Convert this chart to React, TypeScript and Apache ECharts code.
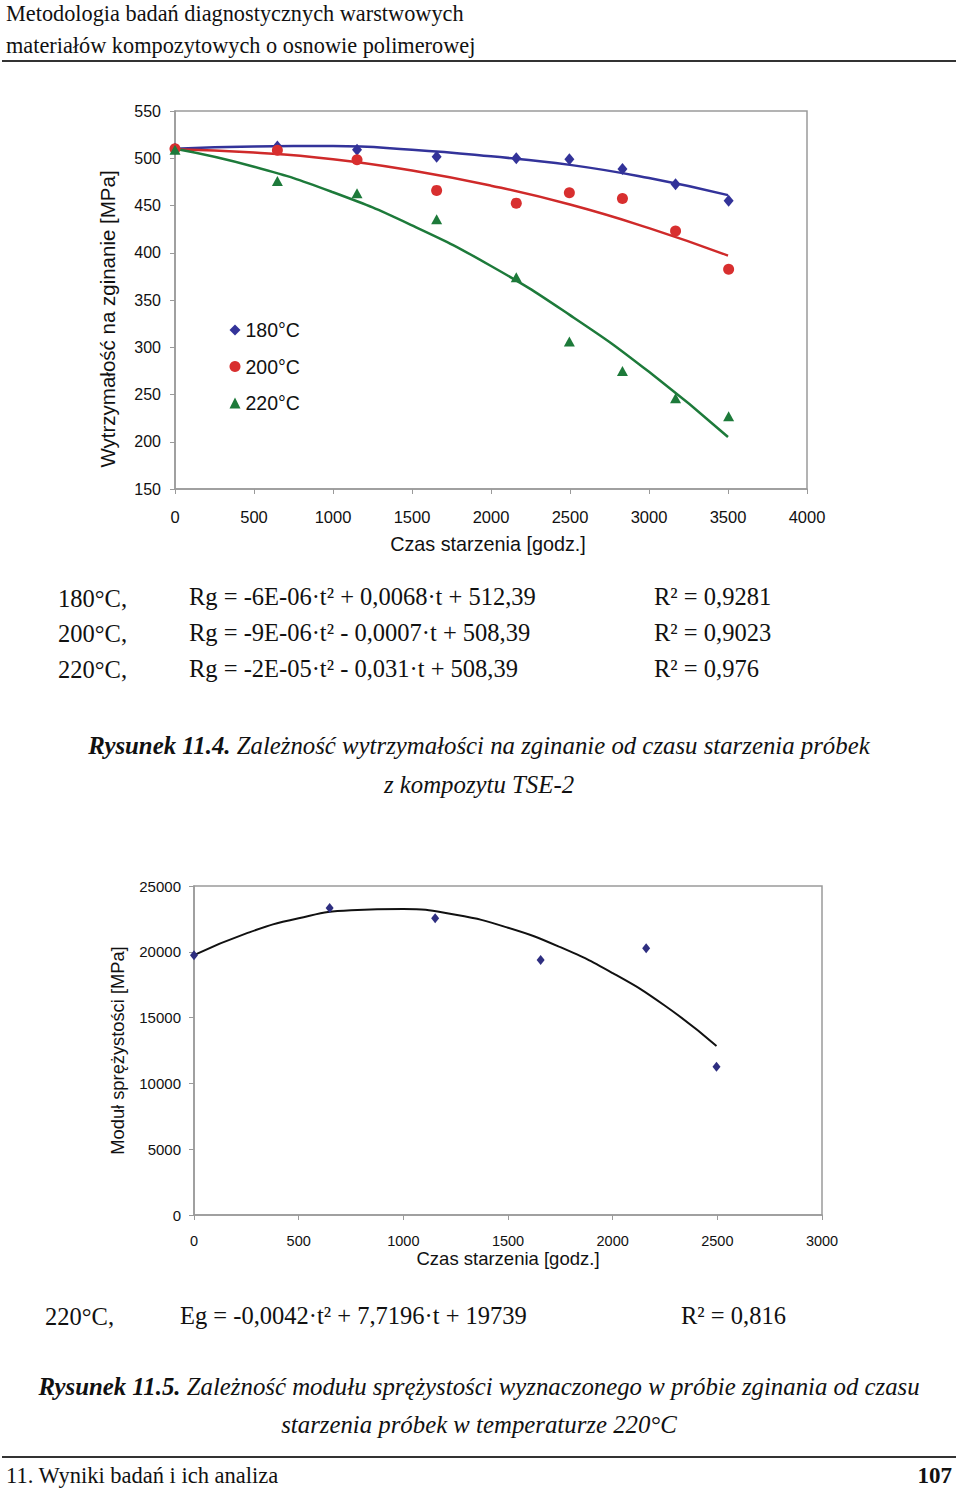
import React, { useEffect, useRef } from "react";
import * as echarts from "echarts";

// ---- Figure 11.4 data (bending strength vs ageing time) ----
const timeTop = [0, 648, 1152, 1656, 2160, 2496, 2832, 3168, 3504];
const rg180 = [510, 512.5, 509, 501.5, 500, 499, 488.5, 472.5, 455];
const rg200 = [510, 508.5, 498.5, 466, 452.5, 463.5, 457.5, 423, 382.5];
const rg220 = [509, 476, 463, 435.5, 374, 306, 275, 246, 227];
const trendTopT = [0, 500, 1000, 1500, 2000, 2500, 3000, 3500];
const trend180 = [510, 512.5, 513, 509, 502, 493, 479, 461];
const trend200 = [509.5, 506, 499, 487, 471, 451, 426, 397];
const trend220 = [510, 491, 464, 429, 386, 334, 274, 205];
const legendNames = ["180°C", "200°C", "220°C"];

// ---- Figure 11.5 data (elastic modulus vs ageing time) ----
const timeBot = [0, 648, 1152, 1656, 2160, 2496];
const eg220 = [19740, 23330, 22550, 19380, 20270, 11260];
const trendBotT = [0, 250, 500, 750, 1000, 1250, 1500, 1750, 2000, 2250, 2496];
const trendBot = [19740, 21400, 22550, 23160, 23260, 22810, 21830, 20350, 18380, 15900, 12850];

const pairs = (xs: number[], ys: number[]) => xs.map((x, i) => [x, ys[i]]);

const SERIF = "'Liberation Serif', 'Times New Roman', serif";
const SANS = "'Liberation Sans', Arial, sans-serif";
const AXIS_GRAY = "#9a9a9a";
const plain = (v: number) => String(v);

function txt(x: number, y: number, text: string, size: number, opts: any = {}) {
  return {
    type: "text",
    x,
    y,
    rotation: opts.rotation || 0,
    style: {
      text,
      font: `${opts.style || ""} ${size}px ${opts.family || SERIF}`,
      fill: "#111",
      textAlign: opts.align || "left",
      textVerticalAlign: "middle",
      rich: opts.rich,
    },
  };
}

export default function App() {
  const ref = useRef<HTMLDivElement>(null);
  useEffect(() => {
    if (!ref.current) return;
    const chart = echarts.init(ref.current, null, { renderer: "svg" });
    const axisCommon = {
      axisLine: { show: true, lineStyle: { color: AXIS_GRAY, width: 1.5 } },
      axisTick: { show: true, length: 5, lineStyle: { color: AXIS_GRAY } },
      splitLine: { show: false },
    };
    const capRich = (size: number) => ({
      b: { font: `italic bold ${size}px ${SERIF}`, fill: "#111" },
      i: { font: `italic ${size}px ${SERIF}`, fill: "#111" },
    });
    const EQ = 24.5;
    const CAP = 24.8;
    chart.setOption({
      animation: false,
      grid: [
        { left: 175, right: 153, top: 111, height: 378, show: true, borderColor: AXIS_GRAY, borderWidth: 1.5 },
        { left: 194, right: 138, top: 886, height: 329, show: true, borderColor: AXIS_GRAY, borderWidth: 1.5 },
      ],
      xAxis: [
        {
          ...axisCommon,
          gridIndex: 0,
          type: "value",
          min: 0,
          max: 4000,
          interval: 500,
          name: "Czas starzenia [godz.]",
          nameLocation: "middle",
          nameGap: 45,
          nameTextStyle: { color: "#111", fontFamily: SANS, fontSize: 19.8, padding: [0, 6, 0, 0] },
          axisLabel: { color: "#111", fontFamily: SANS, fontSize: 16.5, margin: 19, formatter: plain },
        },
        {
          ...axisCommon,
          gridIndex: 1,
          type: "value",
          min: 0,
          max: 3000,
          interval: 500,
          name: "Czas starzenia [godz.]",
          nameLocation: "middle",
          nameGap: 34,
          nameTextStyle: { color: "#111", fontFamily: SANS, fontSize: 18.5 },
          axisLabel: { color: "#111", fontFamily: SANS, fontSize: 14.5, margin: 18, formatter: plain },
        },
      ],
      yAxis: [
        {
          ...axisCommon,
          gridIndex: 0,
          type: "value",
          min: 150,
          max: 550,
          interval: 50,
          axisLabel: { color: "#111", fontFamily: SANS, fontSize: 16, margin: 14, formatter: plain },
        },
        {
          ...axisCommon,
          gridIndex: 1,
          type: "value",
          min: 0,
          max: 25000,
          interval: 5000,
          name: "Moduł sprężystości [MPa]",
          nameLocation: "middle",
          nameRotate: 90,
          nameGap: 68,
          nameTextStyle: { color: "#111", fontFamily: SANS, fontSize: 18.3 },
          axisLabel: { color: "#111", fontFamily: SANS, fontSize: 15, margin: 13, formatter: plain },
        },
      ],
      legend: {
        data: legendNames,
        orient: "vertical",
        left: 229.5,
        top: 320,
        padding: 0,
        itemWidth: 11,
        itemHeight: 11,
        itemGap: 16.5,
        textStyle: { color: "#111", fontFamily: SANS, fontSize: 19.5 },
      },
      series: [
        {
          type: "line", name: "trend180", xAxisIndex: 0, yAxisIndex: 0,
          data: pairs(trendTopT, trend180), smooth: true, showSymbol: false,
          lineStyle: { color: "#33339a", width: 2.5 }, z: 2,
        },
        {
          type: "line", name: "trend200", xAxisIndex: 0, yAxisIndex: 0,
          data: pairs(trendTopT, trend200), smooth: true, showSymbol: false,
          lineStyle: { color: "#cf2a2a", width: 2.5 }, z: 2,
        },
        {
          type: "line", name: "trend220", xAxisIndex: 0, yAxisIndex: 0,
          data: pairs(trendTopT, trend220), smooth: true, showSymbol: false,
          lineStyle: { color: "#1d7a3a", width: 2.5 }, z: 2,
        },
        {
          type: "scatter", name: "180°C", xAxisIndex: 0, yAxisIndex: 0,
          data: pairs(timeTop, rg180), symbol: "diamond", symbolSize: [10, 12],
          itemStyle: { color: "#333399", opacity: 1 }, z: 3,
        },
        {
          type: "scatter", name: "200°C", xAxisIndex: 0, yAxisIndex: 0,
          data: pairs(timeTop, rg200), symbol: "circle", symbolSize: 11,
          itemStyle: { color: "#d82f2f", opacity: 1 }, z: 3,
        },
        {
          type: "scatter", name: "220°C", xAxisIndex: 0, yAxisIndex: 0,
          data: pairs(timeTop, rg220), symbol: "triangle", symbolSize: [11, 10],
          itemStyle: { color: "#1d7a3a", opacity: 1 }, z: 3,
        },
        {
          type: "line", name: "trendEg", xAxisIndex: 1, yAxisIndex: 1,
          data: pairs(trendBotT, trendBot), smooth: true, showSymbol: false,
          lineStyle: { color: "#111", width: 2 }, z: 2,
        },
        {
          type: "scatter", name: "Eg220", xAxisIndex: 1, yAxisIndex: 1,
          data: pairs(timeBot, eg220), symbol: "diamond", symbolSize: [8, 10],
          itemStyle: { color: "#2e2e80", opacity: 1 }, z: 3,
        },
      ],
      graphic: [
        txt(6, 13, "Metodologia badań diagnostycznych warstwowych", 22.3),
        txt(6, 45, "materiałów kompozytowych o osnowie polimerowej", 22.3),
        { type: "line", shape: { x1: 2, y1: 61, x2: 956, y2: 61 }, style: { stroke: "#333", lineWidth: 2 } },

        txt(107, 319, "Wytrzymałość na zginanie [MPa]", 20.5, {
          family: SANS, align: "center", rotation: Math.PI / 2,
        }),

        txt(58, 598, "180°C,", EQ),
        txt(58, 633, "200°C,", EQ),
        txt(58, 669, "220°C,", EQ),
        txt(189, 596, "Rg = -6E-06·t² + 0,0068·t + 512,39", EQ),
        txt(189, 632, "Rg = -9E-06·t² - 0,0007·t + 508,39", EQ),
        txt(189, 668, "Rg = -2E-05·t² - 0,031·t + 508,39", EQ),
        txt(654, 596, "R² = 0,9281", EQ),
        txt(654, 632, "R² = 0,9023", EQ),
        txt(654, 668, "R² = 0,976", EQ),

        txt(479, 745, "{b|Rysunek 11.4.} {i|Zależność wytrzymałości na zginanie od czasu starzenia próbek}", CAP, {
          align: "center", rich: capRich(CAP),
        }),
        txt(479, 784, "{i|z kompozytu TSE-2}", CAP, { align: "center", rich: capRich(CAP) }),

        txt(45, 1316, "220°C,", EQ),
        txt(180, 1315, "Eg = -0,0042·t² + 7,7196·t + 19739", EQ),
        txt(681, 1315, "R² = 0,816", EQ),

        txt(479, 1386, "{b|Rysunek 11.5.} {i|Zależność modułu sprężystości wyznaczonego w próbie zginania od czasu}", CAP, {
          align: "center", rich: capRich(CAP),
        }),
        txt(479, 1424, "{i|starzenia próbek w temperaturze 220°C}", CAP, { align: "center", rich: capRich(CAP) }),

        { type: "line", shape: { x1: 2, y1: 1457, x2: 956, y2: 1457 }, style: { stroke: "#333", lineWidth: 2 } },
        txt(6, 1475, "11. Wyniki badań i ich analiza", 22.5),
        txt(952, 1475, "107", 23, { align: "right", style: "bold" }),
      ],
    });
    return () => chart.dispose();
  }, []);
  return (
    <div
      ref={ref}
      style={{ position: "absolute", left: 0, top: 0, width: 960, height: 1492, background: "#fff" }}
    />
  );
}
